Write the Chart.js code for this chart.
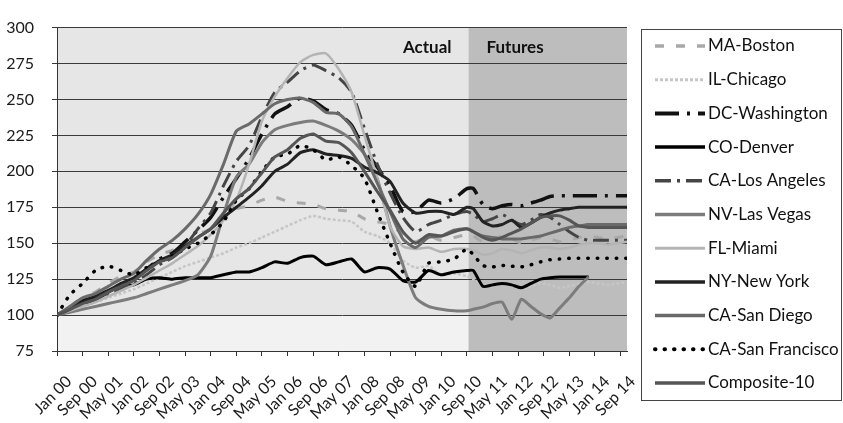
<!DOCTYPE html>
<html><head><meta charset="utf-8">
<script src="https://cdn.jsdelivr.net/npm/chart.js@4/dist/chart.umd.min.js"></script>
<style>html,body{margin:0;padding:0;background:#fff}#wrap{width:843px;height:423px;position:relative}</style>
</head><body><div id="wrap"><canvas id="c" width="843" height="423"></canvas></div>
<script>
// month index from Jan 2000 (0) ; actual every 4 months to Sep 10, then futures quarterly
const months = [0,4,8,12,16,20,24,28,32,36,40,44,48,52,56,60,64,68,72,76,80,84,88,92,96,100,104,108,112,116,120,124,128,
  130,133,136,139,142,145,148,151,154,157,160,163,166,169,172,175,178];
const tickLabels = ['Jan 00','Sep 00','May 01','Jan 02','Sep 02','May 03','Jan 04','Sep 04','May 05','Jan 06','Sep 06','May 07','Jan 08','Sep 08','May 09','Jan 10','Sep 10','May 11','Jan 12','Sep 12','May 13','Jan 14','Sep 14'];
const seriesNames = ['MA-Boston','IL-Chicago','DC-Washington','CO-Denver','CA-Los Angeles','NV-Las Vegas','FL-Miami','NY-New York','CA-San Diego','CA-San Francisco','Composite-10'];
const futuresStart = 128.5;

const boston = [100,106,112,116,122,127,130,137,142,145,150,156,160,167,174,176,180,182,179,178,177,174,173,172,167,165,163,156,151,155,152,154,156,
  155,151,152,155,153,150,152,154,153,151,152,154,155,154,153,154,155];
const chicago = [100,103,106,109,112,115,118,122,126,130,134,137,140,143,147,150,154,158,162,166,169,167,166,165,158,155,150,138,133,134,128,129,127,
  125,121,120,122,121,118,120,122,121,119,120,122,123,122,121,122,123];
const washington = [100,104,108,111,116,121,125,132,139,143,151,159,168,182,195,209,226,240,245,251,249,243,240,232,215,203,190,172,172,180,178,181,188,
  188,177,174,176,177,176,178,180,182.5,183,183,183,183,183,183,183,183];
const denver = [100,105,110,113,117,120,121,125,126,125,126,126,126,128,130,130,133,137,136,140,141,135,137,139,130,133,132,124,123,131,128,130,131,
  131,120,121,122,121,119,122,125,126,126.5,126.5,126.5,126.5,null,null,null,null];
const losAngeles = [100,103,107,110,114,118,122,128,135,140,148,160,171,190,207,218,238,255,262,270,274,270,265,255,230,205,185,168,158,163,166,170,172,
  170,165,167,170,166,163,166,170,168,163,158,154,152,152,152,152,152];
const lasVegas = [100,102,104,106,108,110,112,115,118,121,124,128,141,170,196,205,220,229,232,234,235,232,228,222,212,195,162,135,112,106,104,103,103,
  104,105.5,108,109,97,111,106,101,98,105,112,120,126.5,null,null,null,null];
const miami = [100,103,106,109,113,117,121,126,131,136,142,148,156,166,180,205,235,252,265,276,281,282,271,255,225,195,162,148,146,147,144,146,146,
  145,142,143,146,145,143,145,147,147,146,147,149,150,150,149,150,151];
const newYork = [100,104,109,113,117,122,126,132,138,142,148,154,160,168,175,182,190,200,205,213,215,212,211,209,203,199,193,178,171,172,172,170,175,
  174,165,162,163,166,161,164,168,171,173,174,175,175,175,175,175,175];
const sanDiego = [100,106,112,115,120,125,129,138,146,152,160,170,184,205,228,233,240,247,250,251,248,241,240,231,212,192,172,153,147,154,155,159,160,
  158,155,154,153,153,153,154,155,157,159,161,162,163,163,163,163,163];
const sanFrancisco = [100,114,122,131,134,131,128,133,137,141,146,150,156,165,180,188,200,210,212,218,215,208,210,204,195,172,150,130,120,136,137,139,146,
  142,134.5,133.5,134.5,134,133.5,135,137,138.5,139,139.5,139.5,139.5,139.5,139.5,139.5,139.5];
const composite10 = [100,104,108,111,116,120,124,131,137,140,147,154,160,171,181,188,199,210,215,223,226,221,220,213,200,186,173,158,150,156,155,158,160,
  158,154,152,154,157,160,164,168,169,169,166,162,161,161,161,161,161];

const seriesValues = [boston,chicago,washington,denver,losAngeles,lasVegas,miami,newYork,sanDiego,sanFrancisco,composite10];

const styles = [
  {c:'#a8a8a8', w:3,   d:[9,12]},
  {c:'#c6c6c6', w:2.5, d:[3,2]},
  {c:'#111111', w:3.5, d:[24,8,3,8]},
  {c:'#000000', w:3,   d:[]},
  {c:'#454545', w:3,   d:[16,6,3,6]},
  {c:'#7c7c7c', w:3,   d:[]},
  {c:'#b4b4b4', w:2.5, d:[]},
  {c:'#222222', w:3,   d:[]},
  {c:'#6a6a6a', w:3,   d:[]},
  {c:'#000000', w:3.5, d:[0.5,9], cap:'round'},
  {c:'#555555', w:3,   d:[]}
];

const FONT = 'Lato, "Open Sans", sans-serif';

const datasets = seriesNames.map((name, k) => ({
  label: name,
  data: months.map((m, i) => ({x: m, y: seriesValues[k][i]})),
  borderColor: styles[k].c,
  backgroundColor: styles[k].c,
  borderWidth: styles[k].w,
  borderDash: styles[k].d,
  borderCapStyle: styles[k].cap || 'butt',
  pointRadius: 0,
  tension: 0.2,
  fill: false,
  order: seriesNames.length - k
}));

const bgPlugin = {
  id: 'bg',
  beforeDraw(chart) {
    const {ctx, chartArea: a, scales: {x, y}} = chart;
    const fx = x.getPixelForValue(futuresStart);
    const y100 = y.getPixelForValue(100);
    ctx.save();
    ctx.fillStyle = '#e6e6e6';
    ctx.fillRect(a.left, a.top, fx - a.left, y100 - a.top);
    ctx.fillStyle = '#f2f2f2';
    ctx.fillRect(a.left, y100, fx - a.left, a.bottom - y100);
    ctx.fillStyle = '#bdbdbd';
    ctx.fillRect(fx, a.top, a.right - fx, a.bottom - a.top);
    ctx.restore();
  },
  beforeDatasetsDraw(chart) {
    const {ctx, scales: {x, y}} = chart;
    const fx = x.getPixelForValue(futuresStart);
    ctx.save();
    ctx.font = 'bold 17px ' + FONT;
    ctx.fillStyle = '#111';
    ctx.textBaseline = 'middle';
    const ty = y.getPixelForValue(286);
    ctx.textAlign = 'right';
    ctx.fillText('Actual', fx - 17, ty);
    ctx.textAlign = 'left';
    ctx.fillText('Futures', fx + 18, ty);
    ctx.restore();
  }
};

const legendPlugin = {
  id: 'boxLegend',
  afterDraw(chart) {
    const {ctx} = chart;
    const bx = 641, by = 29, bw = 200, bh = 371;
    ctx.save();
    ctx.strokeStyle = '#444';
    ctx.lineWidth = 1;
    ctx.setLineDash([]);
    ctx.strokeRect(bx + 0.5, by + 0.5, bw, bh);
    chart.data.datasets.forEach((ds, k) => {
      const cy = 46 + k * 33.7;
      ctx.save();
      ctx.strokeStyle = ds.borderColor;
      ctx.lineWidth = ds.borderWidth + 0.5;
      ctx.lineCap = ds.borderCapStyle;
      ctx.setLineDash(ds.borderDash);
      ctx.beginPath();
      ctx.moveTo(655, cy);
      ctx.lineTo(705, cy);
      ctx.stroke();
      ctx.restore();
      ctx.font = '17px ' + FONT;
      ctx.fillStyle = '#111';
      ctx.textAlign = 'left';
      ctx.textBaseline = 'middle';
      ctx.fillText(ds.label, 708, cy);
    });
    ctx.restore();
  }
};

new Chart(document.getElementById('c'), {
  type: 'line',
  data: {datasets},
  plugins: [bgPlugin, legendPlugin],
  options: {
    responsive: false,
    animation: false,
    layout: {padding: {top: 21, right: 216, bottom: 0, left: 0}},
    plugins: {legend: {display: false}, tooltip: {enabled: false}},
    scales: {
      x: {
        type: 'linear', min: 0, max: 178,
        grid: {drawOnChartArea: false, drawTicks: true, tickLength: 5, color: '#333'},
        border: {color: '#333', width: 1},
        ticks: {
          stepSize: 8, autoSkip: false, includeBounds: false,
          maxRotation: 45, minRotation: 45, padding: 16, labelOffset: 12,
          color: '#1a1a1a', font: {family: FONT, size: 16},
          callback: (v) => tickLabels[v / 8]
        },
        afterFit: (s) => { s.height = 72; }
      },
      y: {
        min: 75, max: 300,
        grid: {color: '#3a3a3a', lineWidth: 1, tickLength: 5, drawTicks: true},
        border: {color: '#333', width: 1},
        ticks: {stepSize: 25, padding: 18, color: '#1a1a1a', font: {family: FONT, size: 16}},
        afterFit: (s) => { s.width = 57; }
      }
    }
  }
});
</script></body></html>
